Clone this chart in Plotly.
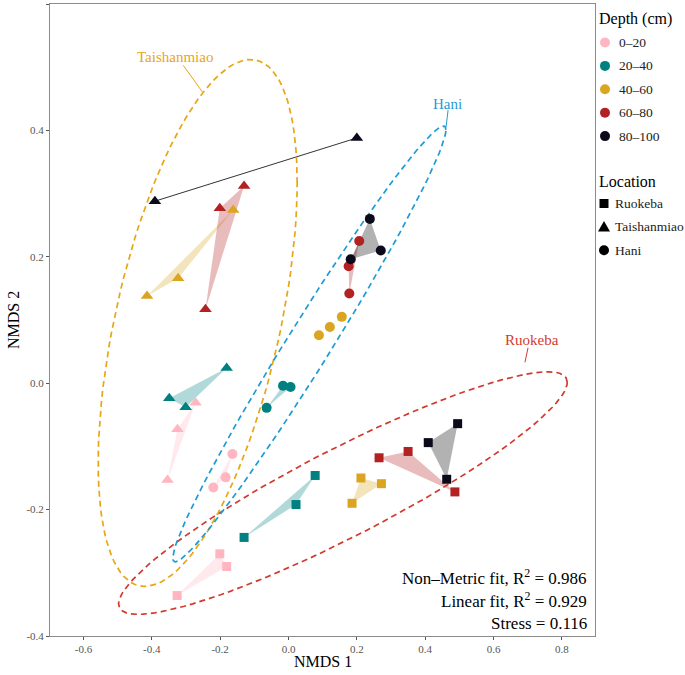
import numpy as np
import plotly.graph_objects as go

# ---------------- data ----------------
depths = ["0–20", "20–40", "40–60", "60–80", "80–100"]
depth_colors = ["#FFB6C1", "#008080", "#DAA520", "#B22222", "#0A0A1A"]
locations = ["Ruokeba", "Taishanmiao", "Hani"]
loc_symbols = ["square", "triangle-up", "circle"]
ellipse_colors = ["#D13B2F", "#E8A614", "#1E9BD7"]

# Ruokeba (squares)
ruo_depth = ["0–20"]*3 + ["20–40"]*3 + ["40–60"]*3 + ["60–80"]*3 + ["80–100"]*3
ruo_x = [-0.201, -0.181, -0.326, 0.078, 0.022, -0.130, 0.272, 0.212, 0.186, 0.350, 0.265, 0.487, 0.495, 0.409, 0.463]
ruo_y = [-0.270, -0.290, -0.336, -0.146, -0.192, -0.244, -0.159, -0.150, -0.190, -0.108, -0.118, -0.172, -0.064, -0.094, -0.152]

# Taishanmiao (triangles)
tai_depth = ["0–20"]*3 + ["20–40"]*3 + ["40–60"]*3 + ["60–80"]*3 + ["80–100"]*2
tai_x = [-0.272, -0.325, -0.354, -0.181, -0.349, -0.301, -0.162, -0.323, -0.414, -0.130, -0.201, -0.243, -0.391, 0.200]
tai_y = [-0.031, -0.073, -0.153, 0.024, -0.024, -0.038, 0.274, 0.166, 0.138, 0.312, 0.277, 0.117, 0.288, 0.388]

# Hani (circles)
han_depth = ["0–20"]*3 + ["20–40"]*3 + ["40–60"]*3 + ["60–80"]*3 + ["80–100"]*3
han_x = [-0.164, -0.184, -0.220, -0.016, 0.006, -0.064, 0.156, 0.121, 0.089, 0.207, 0.176, 0.178, 0.238, 0.270, 0.182]
han_y = [-0.112, -0.149, -0.165, -0.004, -0.006, -0.039, 0.105, 0.089, 0.076, 0.225, 0.185, 0.142, 0.260, 0.210, 0.196]

# ellipse labels
label_x = [0.712, -0.332, 0.464]
label_y = [0.069, 0.516, 0.442]
seg_x0 = [0.701, -0.308, 0.467]
seg_y0 = [0.056, 0.503, 0.432]
seg_x1 = [0.692, -0.251, 0.461]
seg_y1 = [0.033, 0.460, 0.405]

fit_lines = ["Non–Metric fit, R<sup>2</sup> = 0.986", "Linear fit, R<sup>2</sup> = 0.929", "Stress = 0.116"]

x_ticks = [-0.6, -0.4, -0.2, 0.0, 0.2, 0.4, 0.6, 0.8]
x_ticktext = ["-0.6", "-0.4", "-0.2", "0.0", "0.2", "0.4", "0.6", "0.8"]
y_ticks = [-0.4, -0.2, 0.0, 0.2, 0.4, 0.6]
y_ticktext = ["-0.4", "-0.2", "0.0", "0.2", "0.4", "0.6"]

groups = [(ruo_x, ruo_y, ruo_depth), (tai_x, tai_y, tai_depth), (han_x, han_y, han_depth)]

FONT = "Liberation Serif"

W, H = 685, 675
ML, MR, MT, MB = 50, 90, 4, 39
PW, PH = W - ML - MR, H - MT - MB


def px2paper_x(px):
    return (px - ML) / PW


def py2paper_y(py):
    return (H - MB - py) / PH


def rgba(hexc, a):
    h = hexc.lstrip("#")
    r, g, b = int(h[0:2], 16), int(h[2:4], 16), int(h[4:6], 16)
    return f"rgba({r},{g},{b},{a})"


def cov_trob(x, nu=5, maxit=25, tol=0.01):
    n, p = x.shape
    loc = x.mean(0)
    w = np.ones(n)
    X = x - loc
    for _ in range(maxit):
        w0 = w
        X = x - loc
        A = np.sqrt(w / w.sum())[:, None] * X
        _, d, Vt = np.linalg.svd(A, full_matrices=False)
        wX = X @ Vt.T @ np.diag(1 / d)
        Q = (wX ** 2).sum(1)
        w = (nu + p) / (nu + Q)
        loc = (w[:, None] * x).sum(0) / w.sum()
        if np.all(np.abs(w - w0) < tol):
            break
    sX = np.sqrt(w)[:, None] * X
    cov = sX.T @ sX / n
    return cov, loc


def ellipse_pts(xs, ys, level=0.95, seg=120):
    pts = np.column_stack([xs, ys])
    n = len(xs)
    cov, center = cov_trob(pts)
    dfn, dfd = 2, n - 1
    qf = dfd / 2 * ((1 - level) ** (-2 / dfd) - 1)
    radius = np.sqrt(dfn * qf)
    th = np.linspace(0, 2 * np.pi, seg + 1)
    circ = np.column_stack([np.cos(th), np.sin(th)])
    L = np.linalg.cholesky(cov)
    e = center + radius * circ @ L.T
    return e[:, 0], e[:, 1]


fig = go.Figure()

# polygons (hulls per location x depth)
for (xs, ys, ds) in groups:
    for dep, col in zip(depths, depth_colors):
        idx = [i for i, d in enumerate(ds) if d == dep]
        px = [xs[i] for i in idx]
        py = [ys[i] for i in idx]
        if len(idx) == 2:
            fig.add_trace(go.Scatter(x=px, y=py, mode="lines", line=dict(color="#333333", width=1),
                                     showlegend=False, hoverinfo="skip"))
        else:
            fig.add_trace(go.Scatter(x=px + [px[0]], y=py + [py[0]], mode="lines", fill="toself",
                                     fillcolor=rgba(col if col != "#0A0A1A" else "#000000", 0.3),
                                     line=dict(width=0), showlegend=False, hoverinfo="skip"))

# ellipses
for (xs, ys, ds), ec in zip(groups, ellipse_colors):
    ex, ey = ellipse_pts(np.array(xs), np.array(ys))
    fig.add_trace(go.Scatter(x=ex, y=ey, mode="lines", line=dict(color=ec, width=1.7, dash="6px,4px"),
                             showlegend=False, hoverinfo="skip"))

# points
for (xs, ys, ds), sym in zip(groups, loc_symbols):
    cols = [depth_colors[depths.index(d)] for d in ds]
    size = {"square": 9, "triangle-up": 11, "circle": 10}[sym]
    fig.add_trace(go.Scatter(x=xs, y=ys, mode="markers",
                             marker=dict(symbol=sym, color=cols, size=size, line=dict(width=0)),
                             showlegend=False))

annotations = []
shapes = []

# ellipse labels
for lx, ly, txt, ec in zip(label_x, label_y, locations, ellipse_colors):
    annotations.append(dict(x=lx, y=ly, xref="x", yref="y", text=txt, showarrow=False,
                            font=dict(size=15, family=FONT, color=ec)))
for x0, y0, x1, y1, ec in zip(seg_x0, seg_y0, seg_x1, seg_y1, ellipse_colors):
    shapes.append(dict(type="line", x0=x0, y0=y0, x1=x1, y1=y1, xref="x", yref="y",
                       line=dict(color=ec, width=1)))

# fit statistics
for i, t in enumerate(fit_lines):
    annotations.append(dict(x=px2paper_x(589), y=py2paper_y(577 + i * 23), xref="paper", yref="paper", text=t,
                            showarrow=False, xanchor="right", yanchor="middle",
                            font=dict(size=17, family=FONT, color="black")))

# axis titles
annotations.append(dict(x=0.5, y=py2paper_y(661), xref="paper", yref="paper", text="NMDS 1", showarrow=False,
                        xanchor="center", yanchor="middle", font=dict(size=16, family=FONT, color="black")))
annotations.append(dict(x=px2paper_x(13), y=0.5, xref="paper", yref="paper", text="NMDS 2", showarrow=False,
                        textangle=-90, xanchor="center", yanchor="middle",
                        font=dict(size=16, family=FONT, color="black")))

# manual legend
annotations.append(dict(x=px2paper_x(597), y=py2paper_y(19), xref="paper", yref="paper", text="Depth (cm)",
                        showarrow=False, xanchor="left", yanchor="middle",
                        font=dict(size=16, family=FONT, color="black")))
for i, (dep, col) in enumerate(zip(depths, depth_colors)):
    cy = 42.5 + i * 23.4
    shapes.append(dict(type="circle", xref="paper", yref="paper", xsizemode="pixel", ysizemode="pixel",
                       xanchor=px2paper_x(605), yanchor=py2paper_y(cy), x0=-5, x1=5, y0=-5, y1=5,
                       fillcolor=col, line=dict(width=0)))
    annotations.append(dict(x=px2paper_x(617), y=py2paper_y(cy), xref="paper", yref="paper", text=dep,
                            showarrow=False, xanchor="left", yanchor="middle",
                            font=dict(size=13.5, family=FONT, color="#222222")))
annotations.append(dict(x=px2paper_x(597), y=py2paper_y(181), xref="paper", yref="paper", text="Location",
                        showarrow=False, xanchor="left", yanchor="middle",
                        font=dict(size=16, family=FONT, color="black")))
sym_paths = {
    "square": "M -4.5 -4.5 L 4.5 -4.5 L 4.5 4.5 L -4.5 4.5 Z",
    "triangle-up": "M -6 -4.5 L 6 -4.5 L 0 6 Z",
    "circle": None,
}
for i, (loc, sym) in enumerate(zip(locations, loc_symbols)):
    cy = 203.5 + i * 23.4
    if sym == "circle":
        shapes.append(dict(type="circle", xref="paper", yref="paper", xsizemode="pixel", ysizemode="pixel",
                           xanchor=px2paper_x(604), yanchor=py2paper_y(cy), x0=-5, x1=5, y0=-5, y1=5,
                           fillcolor="black", line=dict(width=0)))
    else:
        shapes.append(dict(type="path", xref="paper", yref="paper", xsizemode="pixel", ysizemode="pixel",
                           xanchor=px2paper_x(604), yanchor=py2paper_y(cy), path=sym_paths[sym],
                           fillcolor="black", line=dict(width=0)))
    annotations.append(dict(x=px2paper_x(613), y=py2paper_y(cy), xref="paper", yref="paper", text=loc,
                            showarrow=False, xanchor="left", yanchor="middle",
                            font=dict(size=13.5, family=FONT, color="#222222")))

axis_common = dict(showline=True, linecolor="#8c8c8c", linewidth=1, mirror=True, showgrid=False,
                   zeroline=False, ticks="outside", ticklen=3, tickcolor="#555555",
                   tickfont=dict(size=11, family=FONT, color="#555555"), automargin=False)

fig.update_layout(
    width=W, height=H,
    margin=dict(l=ML, r=MR, t=MT, b=MB, autoexpand=False),
    paper_bgcolor="white", plot_bgcolor="white",
    font=dict(family=FONT),
    xaxis=dict(range=[-0.698, 0.897], tickvals=x_ticks, ticktext=x_ticktext, **axis_common),
    yaxis=dict(range=[-0.4, 0.6], tickvals=y_ticks, ticktext=y_ticktext, **axis_common),
    annotations=annotations,
    shapes=shapes,
    showlegend=False,
)

fig.write_html("out.html", config={"displayModeBar": False},
               post_script="document.body.style.margin='0';document.body.style.overflow='hidden';")
